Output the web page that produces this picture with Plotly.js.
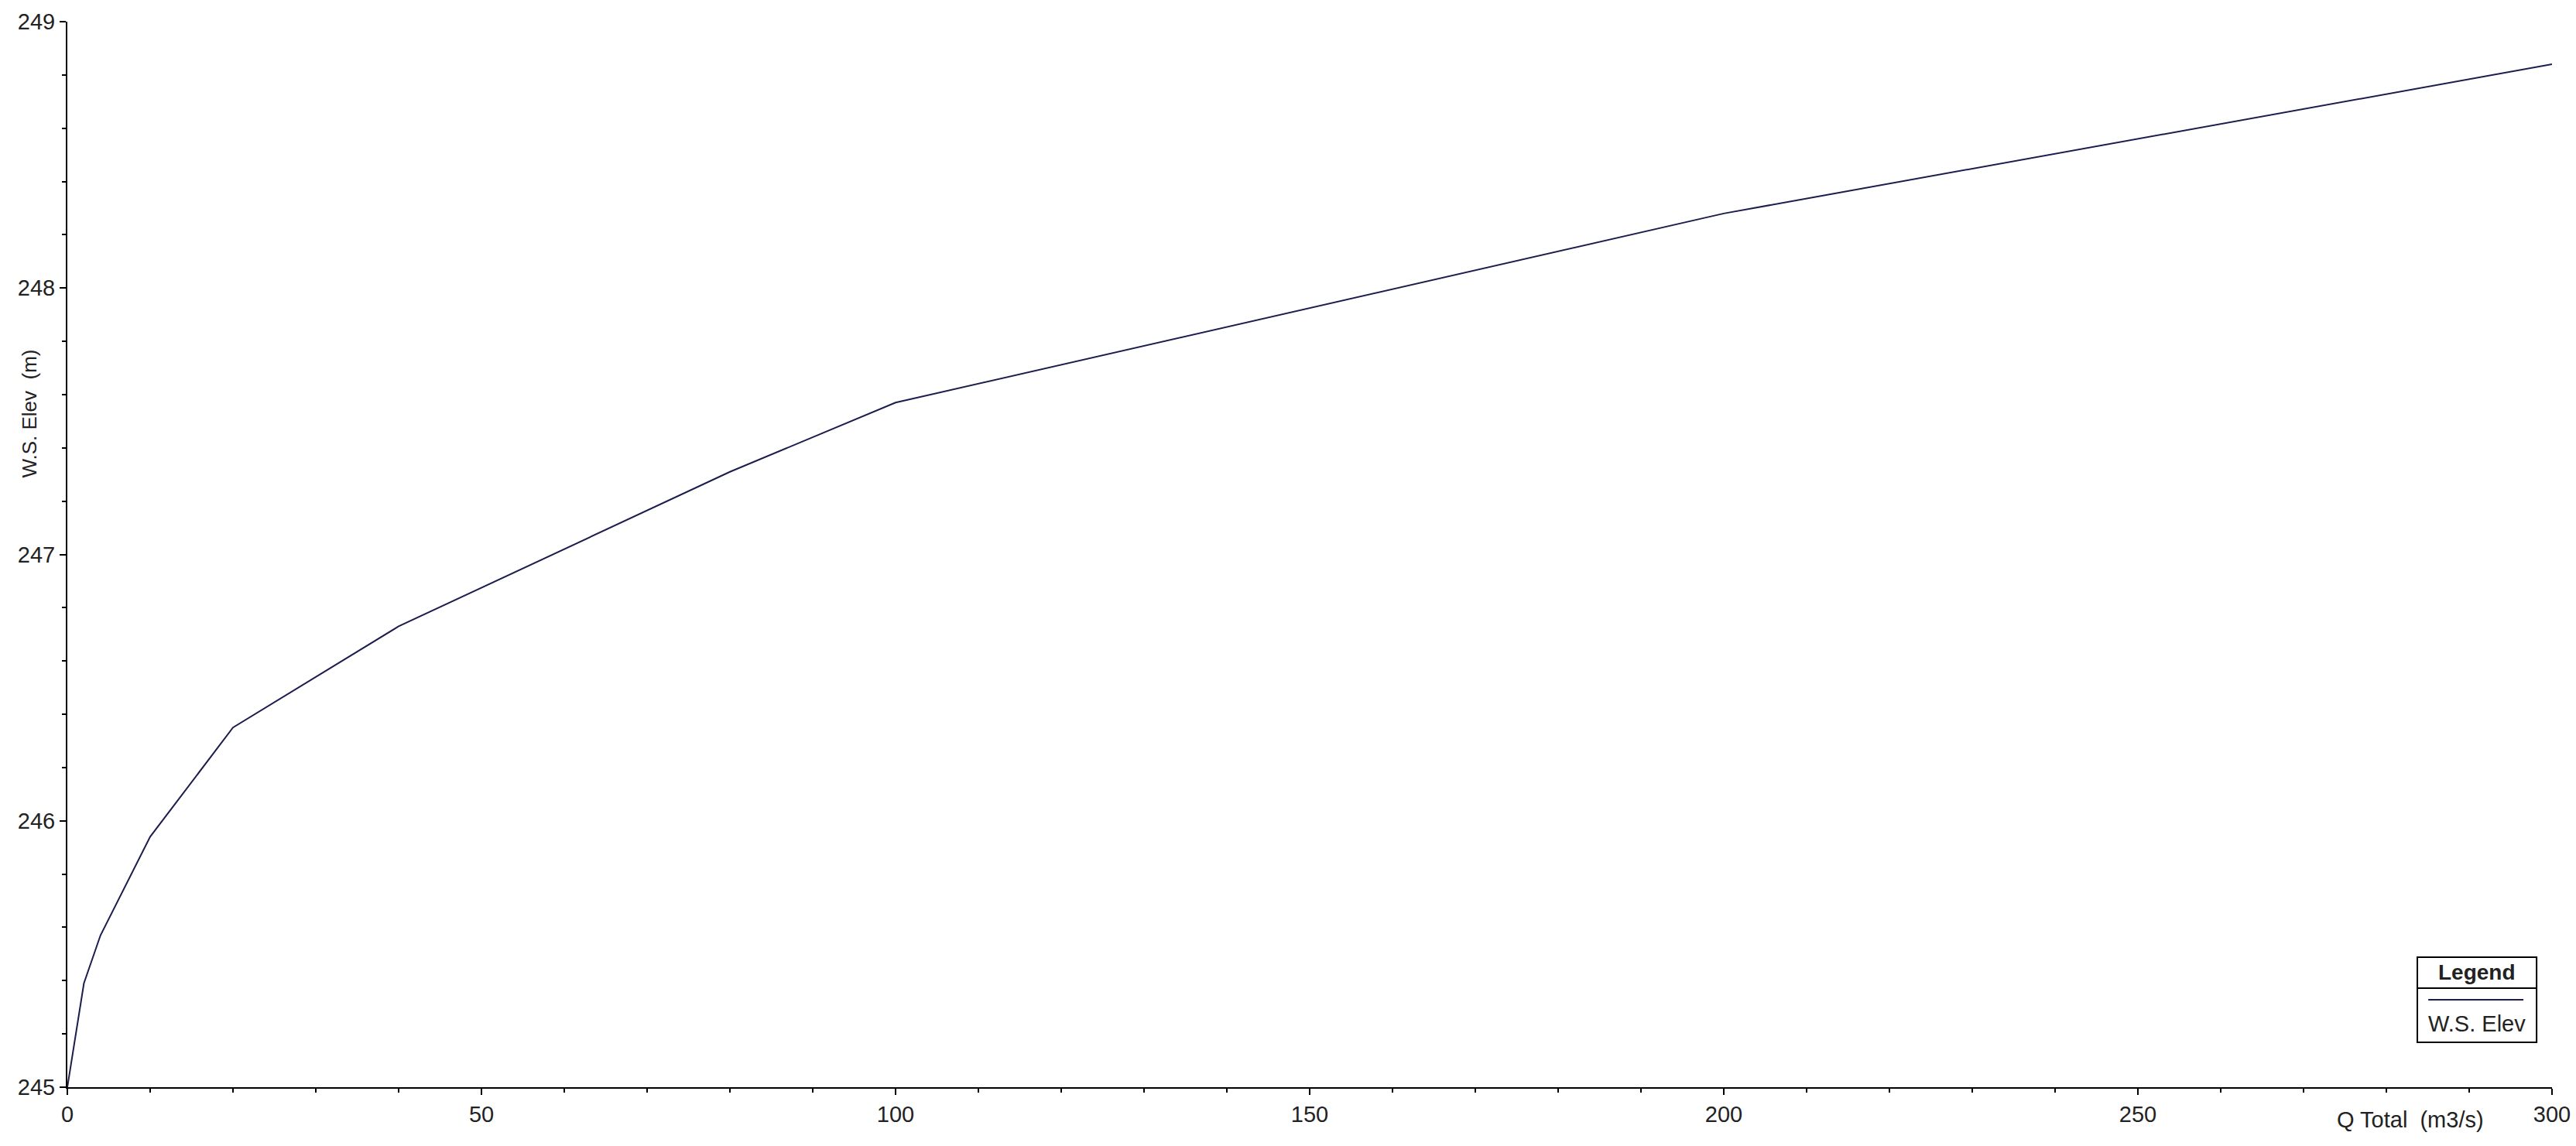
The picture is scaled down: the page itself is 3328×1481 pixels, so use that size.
<!DOCTYPE html>
<html>
<head>
<meta charset="utf-8">
<script src="https://cdn.plot.ly/plotly-3.0.1.min.js"></script>
<style>
  html, body { margin: 0; padding: 0; background: #fff; }
  #myDiv { width: 3328px; height: 1481px; }
</style>
</head>
<body>
<div id="myDiv"></div>
<script>
// rating curve
var qTotal = [0, 2, 4, 10, 20, 40, 80, 100, 200, 300];
var wsElev = [245.0, 245.39, 245.57, 245.94, 246.35, 246.73, 247.31, 247.57, 248.28, 248.84];

var xTickVals = [0, 50, 100, 150, 200, 250, 300];
var yTickVals = [245, 246, 247, 248, 249];

var seriesName = 'W.S. Elev';
var lineColor = '#1c1c4e';
var fontFam = 'Liberation Sans, Arial, sans-serif';

function rating(){
    var data = [{
        x: qTotal,
        y: wsElev,
        type: 'scatter',
        mode: 'lines',
        name: seriesName,
        line: {color: lineColor, width: 2},
        showlegend: false
    }];

    var axisBase = {
        showgrid: false,
        zeroline: false,
        showline: true,
        linecolor: '#000',
        linewidth: 2,
        ticks: 'outside',
        ticklen: 8,
        tickwidth: 2,
        tickcolor: '#000',
        tickfont: {family: fontFam, size: 29, color: '#222'}
    };

    var xaxis = Object.assign({}, axisBase, {
        range: [0, 300],
        tickvals: xTickVals,
        minor: {dtick: 10, ticks: 'outside', ticklen: 5, tickwidth: 2, tickcolor: '#000', showgrid: false}
    });
    var yaxis = Object.assign({}, axisBase, {
        range: [245, 249],
        tickvals: yTickVals,
        minor: {dtick: 0.2, ticks: 'outside', ticklen: 5, tickwidth: 2, tickcolor: '#000', showgrid: false}
    });

    // legend box drawn by hand (header + divider + sample)
    var shapes = [
        {type: 'rect', xref: 'paper', yref: 'paper', x0: 0.9458, x1: 0.9938, y0: 0.0421, y1: 0.1220,
         line: {color: '#000', width: 2}, fillcolor: '#fff'},
        {type: 'line', xref: 'paper', yref: 'paper', x0: 0.9458, x1: 0.9938, y0: 0.0930, y1: 0.0930,
         line: {color: '#000', width: 2}},
        {type: 'line', xref: 'paper', yref: 'paper', x0: 0.9502, x1: 0.9885, y0: 0.0821, y1: 0.0821,
         line: {color: lineColor, width: 2}}
    ];

    var annotations = [
        {text: '<b>Legend</b>', xref: 'paper', yref: 'paper', x: 0.9698, y: 0.1075,
         showarrow: false, xanchor: 'center', yanchor: 'middle',
         font: {family: fontFam, size: 28, color: '#222'}},
        {text: seriesName, xref: 'paper', yref: 'paper', x: 0.9698, y: 0.0595,
         showarrow: false, xanchor: 'center', yanchor: 'middle',
         font: {family: fontFam, size: 29, color: '#222'}},
        {text: 'Q Total\u00a0\u00a0(m3/s)', xref: 'paper', yref: 'paper', x: 0.943, y: -0.0305,
         showarrow: false, xanchor: 'center', yanchor: 'middle',
         font: {family: fontFam, size: 29, color: '#222'}},
        {text: 'W.S. Elev\u00a0\u00a0(m)', xref: 'paper', yref: 'paper', x: -0.0153, y: 0.632,
         textangle: -90, showarrow: false, xanchor: 'center', yanchor: 'middle',
         font: {family: fontFam, size: 26, color: '#222'}}
    ];

    var layout = {
        width: 3328,
        height: 1481,
        margin: {l: 87, r: 31, t: 28, b: 76},
        paper_bgcolor: '#fff',
        plot_bgcolor: '#fff',
        xaxis: xaxis,
        yaxis: yaxis,
        shapes: shapes,
        annotations: annotations,
        showlegend: false
    };

    Plotly.newPlot('myDiv', data, layout, {staticPlot: true});
}

rating();
</script>
</body>
</html>
